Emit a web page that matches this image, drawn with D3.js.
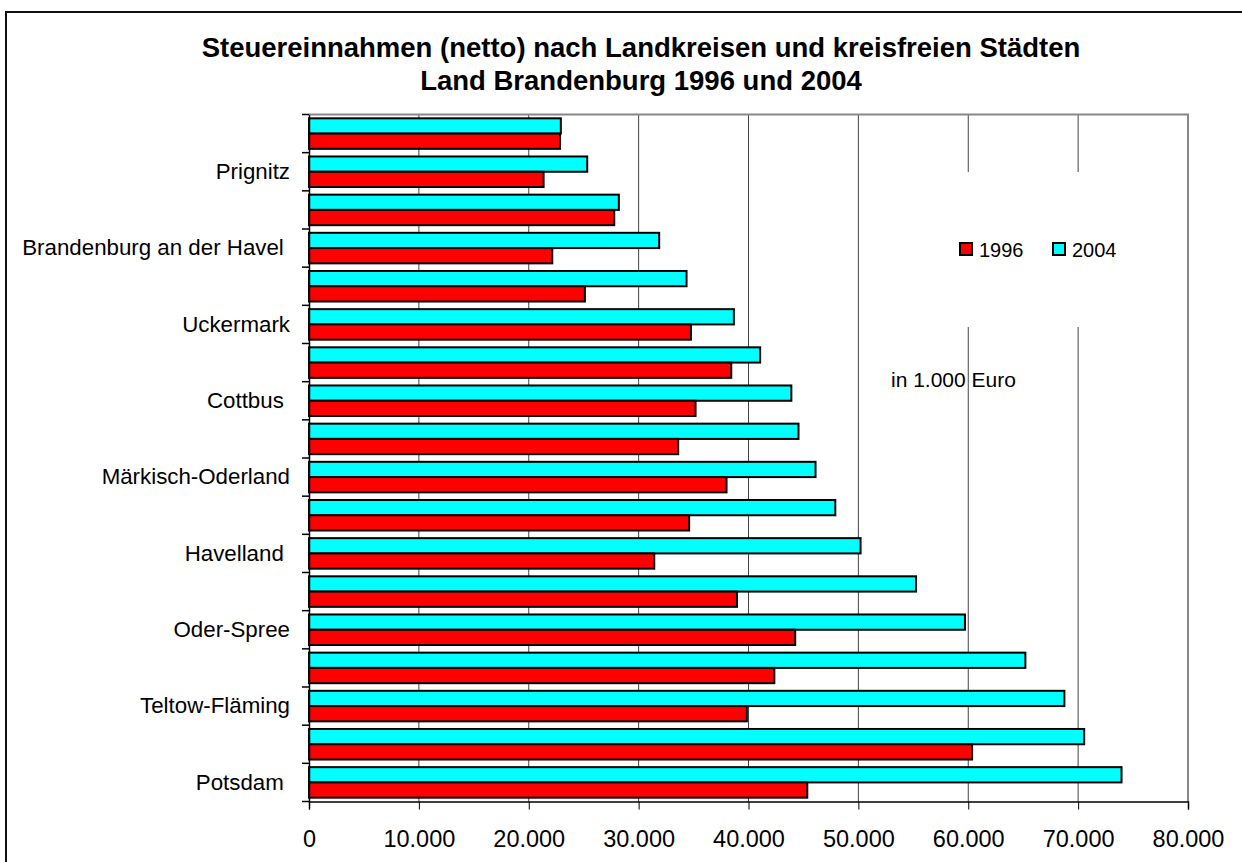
<!DOCTYPE html>
<html>
<head>
<meta charset="utf-8">
<script src="https://cdn.jsdelivr.net/npm/d3@7"></script>
<style>
 body{margin:0;background:#fff;font-family:Arial,"Liberation Sans",sans-serif;}
 svg text{font-family:Arial,"Liberation Sans",sans-serif;fill:#000;}
 .yaxis text{white-space:pre;}
</style>
</head>
<body>
<div id="chartDiv"></div>
<script>
//Data -- top of chart to bottom
var names = ["Frankfurt (Oder) ","Prignitz","Ostprignitz-Ruppin","Brandenburg an der Havel ","Elbe-Elster",
 "Uckermark","Oberspreewald-Lausitz","Cottbus ","Spree-Neiße","Märkisch-Oderland","Barnim","Havelland ",
 "Dahme-Spreewald","Oder-Spree","Oberhavel","Teltow-Fläming","Potsdam-Mittelmark","Potsdam "];
var v1996 = [22850,21350,27780,22140,25110,34760,38430,35180,33600,38000,34600,31420,38950,44250,42350,39850,60350,45350];
var v2004 = [22920,25320,28200,31870,34360,38670,41060,43900,44550,46100,47900,50200,55250,59700,65200,68750,70550,73950];
var seriesNames = ["2004","1996"];		//cyan on top, red below
var seriesColors = {"1996":"#ff0000","2004":"#00ffff"};
var xTicks = [0,10000,20000,30000,40000,50000,60000,70000,80000];
var titleLines = ["Steuereinnahmen (netto) nach Landkreisen und kreisfreien Städten","Land Brandenburg 1996 und 2004"];

var W = 1242, H = 862;
var margin = {top: 114.5, right: 54, bottom: 60.5, left: 309};
var width  = W - margin.left - margin.right;
var height = H - margin.top - margin.bottom;

var de = d3.formatLocale({decimal:",", thousands:".", grouping:[3], currency:["","€"]});
var fmt = de.format(",");

var svg = d3.select("#chartDiv").append("svg")
 .attr("width", W).attr("height", H);

svg.append("rect")			//outer frame
 .attr("x",6).attr("y",12).attr("width",W+20).attr("height",H+20)
 .attr("fill","none").attr("stroke","#111").attr("stroke-width",2);

svg.selectAll(".title").data(titleLines).enter().append("text")
 .attr("x",641).attr("y",(d,i) => 57 + i*33)
 .attr("text-anchor","middle")
 .style("font-size","27.5px").style("font-weight","bold")
 .text(d => d);

var g = svg.append("g").attr("transform","translate(" + margin.left + "," + margin.top + ")");

var xScale = d3.scaleLinear().domain([0,80000]).range([0,width]);
var yScale = d3.scaleBand().domain(names).range([0,height]).paddingInner(0.2).paddingOuter(0.1);
var ySub = d3.scaleBand().domain(seriesNames).range([0,yScale.bandwidth()]);

//gridlines
g.selectAll(".grid").data(xTicks.slice(1,-1)).enter().append("line")
 .attr("x1",d => xScale(d)).attr("x2",d => xScale(d))
 .attr("y1",0).attr("y2",height)
 .attr("stroke","#444").attr("stroke-width",1);

//plot border top + right
g.append("path")
 .attr("d","M0,0H" + width + "V" + height)
 .attr("fill","none").attr("stroke","#888").attr("stroke-width",2);

//bars
var rows = names.map((n,i) => ({name:n, "1996":v1996[i], "2004":v2004[i]}));
var grp = g.selectAll(".cat").data(rows).enter().append("g")
 .attr("transform",d => "translate(0," + yScale(d.name) + ")");
grp.selectAll("rect").data(d => seriesNames.map(s => ({s:s, v:d[s]}))).enter().append("rect")
 .attr("x",xScale(0))
 .attr("y",d => ySub(d.s))
 .attr("width",d => xScale(d.v))
 .attr("height",ySub.bandwidth())
 .attr("fill",d => seriesColors[d.s])
 .attr("stroke","#000").attr("stroke-width",2);

//legend box hides gridlines behind it
var lg = g.append("g");
lg.append("rect").attr("x",930-margin.left).attr("y",172-margin.top)
 .attr("width",215).attr("height",155).attr("fill","#fff");
var items = ["1996","2004"];
items.forEach(function(s,i){
 var lx = 960 - margin.left + i*93, ly = 243 - margin.top;
 lg.append("rect").attr("x",lx).attr("y",ly).attr("width",12).attr("height",12)
  .attr("fill",seriesColors[s]).attr("stroke","#000").attr("stroke-width",2);
 lg.append("text").attr("x",lx+19).attr("y",ly+13.5)
  .style("font-size","20px").text(s);
});

g.append("text")			//unit note
 .attr("x",891-margin.left).attr("y",387-margin.top)
 .style("font-size","21px")
 .text("in 1.000 Euro");

//x axis
var xAxis = g.append("g").attr("class","xaxis")
 .attr("transform","translate(0," + height + ")")
 .call(d3.axisBottom(xScale).tickValues(xTicks).tickFormat(fmt).tickSize(8).tickPadding(21));
xAxis.selectAll("text").style("font-size","23.5px");
xAxis.select(".domain").attr("stroke","#000").attr("stroke-width",1.5);

//y axis (labels only every other category)
var yAxis = g.append("g").attr("class","yaxis")
 .call(d3.axisLeft(yScale).tickSize(0).tickPadding(19)
  .tickFormat((d,i) => i%2 ? d : ""));
yAxis.selectAll("text").style("font-size","22.3px");
yAxis.select(".domain").attr("stroke","#000").attr("stroke-width",1.5);

//tick marks on category boundaries
var off = yScale.step()*yScale.paddingInner()/2;
var bounds = names.map(n => yScale(n) - off).concat([height]);
g.selectAll(".ytick").data(bounds).enter().append("line")
 .attr("x1",-7).attr("x2",0)
 .attr("y1",d => d).attr("y2",d => d)
 .attr("stroke","#000").attr("stroke-width",1.5);
</script>
</body>
</html>
